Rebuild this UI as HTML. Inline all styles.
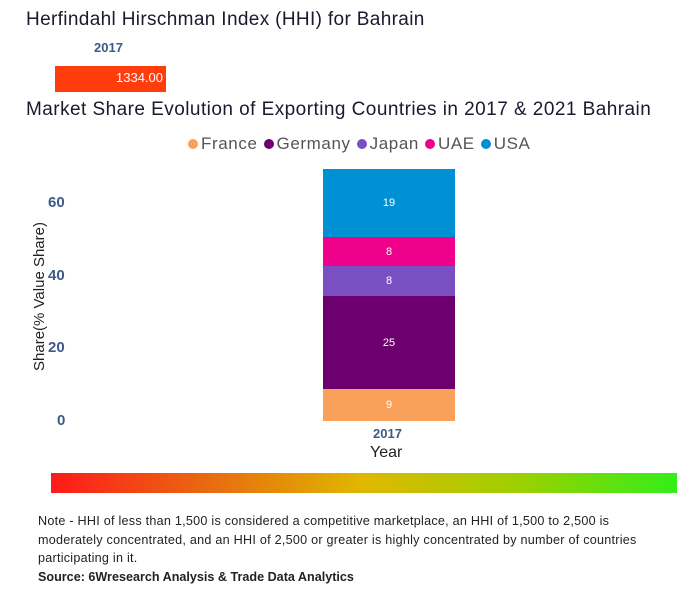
<!DOCTYPE html>
<html><head><meta charset="utf-8"><style>
body{margin:0;width:696px;height:600px;background:#fff;position:relative;font-family:"Liberation Sans",sans-serif;overflow:hidden}
.a{position:absolute;white-space:nowrap}
.t{font-size:19px;color:#1a1a2e}
.seg{position:absolute;left:323px;width:132px;color:#fff;font-size:11px;display:flex;align-items:center;justify-content:center}
.tick{position:absolute;font-size:15px;font-weight:bold;color:#3d5a8a}
.dot{display:inline-block;width:10px;height:10px;border-radius:50%;margin:0 3px 0 6px;vertical-align:0px}
</style></head><body>
<div class="a t" style="left:26px;top:9px;letter-spacing:0.35px">Herfindahl Hirschman Index (HHI) for Bahrain</div>
<div class="a" style="left:94px;top:40px;font-size:13px;font-weight:bold;color:#3d5a8a">2017</div>
<div class="a" style="left:55px;top:66px;width:111px;height:26px;background:#ff3d0c"></div>
<div class="a" style="left:110px;top:70px;width:53px;text-align:right;color:#fff;font-size:13px">1334.00</div>
<div class="a t" style="left:26px;top:99px;letter-spacing:0.45px">Market Share Evolution of Exporting Countries in 2017 &amp; 2021 Bahrain</div>
<div class="a" style="left:182px;top:134px;font-size:17px;color:#555;letter-spacing:0.6px">
<span class="dot" style="background:#f9a05a"></span>France<span class="dot" style="background:#6b006e"></span>Germany<span class="dot" style="background:#7a4fc2"></span>Japan<span class="dot" style="background:#ee008a"></span>UAE<span class="dot" style="background:#0091d5"></span>USA</div>
<div class="seg" style="top:169px;height:68px;background:#0091d5">19</div>
<div class="seg" style="top:237px;height:29px;background:#ee008a">8</div>
<div class="seg" style="top:266px;height:30px;background:#7a4fc2">8</div>
<div class="seg" style="top:296px;height:93px;background:#6b006e">25</div>
<div class="seg" style="top:389px;height:32px;background:#f9a05a">9</div>
<div class="tick" style="top:194px;left:48px">60</div>
<div class="tick" style="top:267px;left:48px">40</div>
<div class="tick" style="top:339px;left:48px">20</div>
<div class="tick" style="top:412px;left:57px">0</div>
<div class="a" style="left:-35px;top:288px;transform:rotate(-90deg);font-size:15px;color:#222">Share(% Value Share)</div>
<div class="a" style="left:373px;top:426px;font-size:13px;font-weight:bold;color:#3d5a8a">2017</div>
<div class="a" style="left:370px;top:444px;font-size:16px;color:#222">Year</div>
<div class="a" style="left:51px;top:473px;width:626px;height:20px;background:linear-gradient(to right,#ff1a1a,#e86a10,#e0b800,#9cd000,#33ee1a)"></div>
<div class="a" style="left:38px;top:512px;font-size:12.6px;color:#222;line-height:18.5px;letter-spacing:0.25px">Note - HHI of less than 1,500 is considered a competitive marketplace, an HHI of 1,500 to 2,500 is<br>moderately concentrated, and an HHI of 2,500 or greater is highly concentrated by number of countries<br>participating in it.<br><b style="letter-spacing:0">Source: 6Wresearch Analysis &amp; Trade Data Analytics</b></div>
</body></html>
